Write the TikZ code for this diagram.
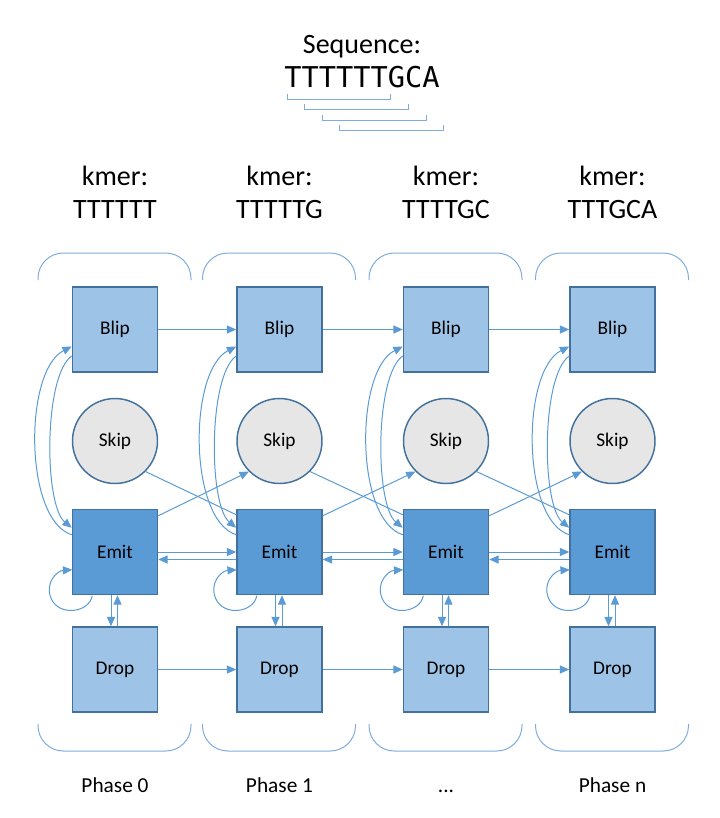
\documentclass[tikz,border=0pt]{standalone}
\usepackage{fontspec}
\setmainfont{Carlito}
\newfontfamily\seqmono{DejaVu Sans Mono}
\usetikzlibrary{arrows.meta,calc}
\definecolor{lblue}{HTML}{9DC3E6}
\definecolor{eblue}{HTML}{5B9BD5}
\definecolor{bord}{HTML}{41719C}
\definecolor{sgray}{HTML}{E7E6E6}
\definecolor{lineblue}{HTML}{5B9BD5}
\definecolor{brk}{HTML}{7EADDD}
\newcommand\mythreedots{...}
\begin{document}
\begin{tikzpicture}[x=0.75pt,y=-0.75pt,
  box/.style={draw=bord, line width=1.1pt, minimum width=63.75pt, minimum height=63.75pt, inner sep=0pt, font=\fontsize{14.5}{16}\selectfont},
  blipbox/.style={box, fill=lblue},
  emitbox/.style={box, fill=eblue},
  skipnode/.style={circle, draw=bord, fill=sgray, line width=1.1pt, minimum size=63.75pt, inner sep=0pt, font=\fontsize{14.5}{16}\selectfont},
  conn/.style={draw=lineblue, line width=0.75pt, -{Triangle[length=7pt,width=6pt]}},
  plainline/.style={draw=lineblue, line width=0.75pt},
  phasebr/.style={draw=brk, line width=0.75pt, rounded corners=19pt},
  seqbr/.style={draw=brk, line width=0.75pt},
  bigtext/.style={font=\fontsize{21}{25}\selectfont, inner sep=0pt, anchor=base},
  phasetext/.style={font=\fontsize{16}{19}\selectfont, inner sep=0pt, anchor=base},
]
\useasboundingbox (0,0) rectangle (719,818);

% sequence header
\node[bigtext] (seqlabel) at (362,53) {Sequence:};
\node[font=\seqmono\fontsize{21.5}{25}\selectfont, inner sep=0pt, anchor=base] (seq) at (362,87) {TTTTTTGCA};
\draw[seqbr] (287,94) -- (287,99) -- (390,99) -- (390,94);
\draw[seqbr] (304,104) -- (304,109) -- (408,109) -- (408,104);
\draw[seqbr] (322,115) -- (322,120) -- (426,120) -- (426,115);
\draw[seqbr] (339,125) -- (339,130) -- (443,130) -- (443,125);

% columns
\foreach \i/\x/\km/\ph in {0/115/TTTTTT/Phase 0,1/279.5/TTTTTG/Phase 1,2/446/TTTTGC/\mythreedots,3/612.5/TTTGCA/Phase n}{
  \node[bigtext] (ka\i) at (\x,185) {kmer:};
  \node[bigtext] (kb\i) at (\x,218) {\km};
  \draw[phasebr] (\x-77,280) -- (\x-77,253) -- (\x+76,253) -- (\x+76,280);
  \draw[phasebr] (\x-77,724) -- (\x-77,751) -- (\x+76,751) -- (\x+76,724);
  \node[blipbox] (b\i) at (\x,329.5) {Blip};
  \node[skipnode] (s\i) at (\x,441) {Skip};
  \node[emitbox] (e\i) at (\x,552) {Emit};
  \node[blipbox] (d\i) at (\x,669.5) {Drop};
  \node[phasetext] (p\i) at (\x,792) {\ph};
}

% within-column connectors
\foreach \i in {0,1,2,3}{
  \draw[conn] ($(e\i.north west)+(0,26)$) .. controls +(-48,-15) and +(-48,24) .. ($(b\i.west)+(0,17)$);
  \draw[conn] ($(b\i.west)+(0,26.5)$) .. controls +(-28,19) and +(-28,-23) .. ($(e\i.north west)+(0,19)$);
  \draw[conn] ($(e\i.south west)+(20.5,0.5)$) .. controls ($(e\i.south west)+(17.5,17.5)$) and ($(e\i.south west)+(-12.5,21.5)$) .. ($(e\i.south west)+(-20.5,3.5)$)
     .. controls ($(e\i.south west)+(-27.5,-12.5)$) and ($(e\i.south west)+(-14.5,-24.5)$) .. ($(e\i.south west)+(0.5,-25.5)$);
  \draw[conn] ($(e\i.south)+(-4,0)$) -- ($(d\i.north)+(-4,0)$);
  \draw[conn] ($(d\i.north)+(2.5,0)$) -- ($(e\i.south)+(2.5,0)$);
}

% between-column connectors
\foreach \i/\j in {0/1,1/2,2/3}{
  \draw[conn] (b\i.east) -- (b\j.west);
  \draw[conn] (e\i.east) -- (e\j.west);
  \draw[conn] ($(e\j.west)+(0,7.5)$) -- ($(e\i.east)+(0,7.5)$);
  \draw[conn] (d\i.east) -- (d\j.west);
  \draw[conn] ($(e\i.north east)+(0,7)$) -- (s\j.-135);
  \draw[plainline] (s\i.-45) -- ($(e\j.north west)+(0,6)$);
}
\end{tikzpicture}
\end{document}
